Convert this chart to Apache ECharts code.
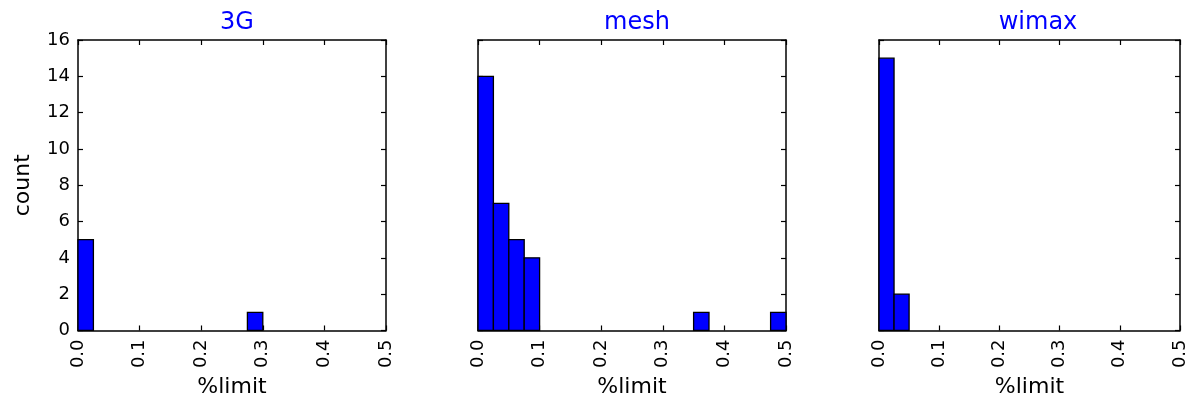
<!DOCTYPE html>
<html>
<head>
<meta charset="utf-8">
<script src="https://cdn.jsdelivr.net/npm/echarts@6/dist/echarts.min.js"></script>
<style>html,body{margin:0;padding:0;background:#fff}#c{width:1189px;height:403px}</style>
</head>
<body>
<div id="c"></div>
<script>
// ---- data ----
const panelTitles = ['3G', 'mesh', 'wimax'];
const binWidth = 0.025;
// bin start (left edge) and counts of non-empty bins
const g3BinStarts = [0.0, 0.275];
const g3Counts = [5, 1];
const meshBinStarts = [0.0, 0.025, 0.05, 0.075, 0.35, 0.475];
const meshCounts = [14, 7, 5, 4, 1, 1];
const wimaxBinStarts = [0.0, 0.025];
const wimaxCounts = [15, 2];
const xTickLabels = ['0.0', '0.1', '0.2', '0.3', '0.4', '0.5'];
const yTickLabels = ['0', '2', '4', '6', '8', '10', '12', '14', '16'];
const xAxisName = '%limit';
const yAxisName = 'count';

const panels = [
  { starts: g3BinStarts, counts: g3Counts },
  { starts: meshBinStarts, counts: meshCounts },
  { starts: wimaxBinStarts, counts: wimaxCounts }
];

const FONT = 'DejaVu Sans';
const gridLefts = [78, 478, 879];
const gridWidth = 308;
const gridTop = 40;
const gridHeight = 292;
const LINE = { color: '#000', width: 1.5 };
const TICK = { show: true, inside: true, length: 5, lineStyle: { color: '#000', width: 1.2 } };

const grids = [], xAxes = [], yAxes = [], series = [], titles = [];

panels.forEach((p, i) => {
  grids.push({ left: gridLefts[i], top: gridTop, width: gridWidth, height: gridHeight,
    show: false });
  titles.push({ text: panelTitles[i], left: gridLefts[i] + gridWidth / 2, top: 6, textAlign: 'center',
    textStyle: { color: '#0000ff', fontFamily: FONT, fontSize: 24, fontWeight: 'normal' } });
  // bottom x axis
  xAxes.push({ gridIndex: i, type: 'value', min: 0, max: 0.5, interval: 0.1, position: 'bottom',
    name: xAxisName, nameLocation: 'middle', nameGap: 44,
    nameTextStyle: { fontFamily: FONT, fontSize: 22, color: '#000' },
    axisLine: { show: true, onZero: false, lineStyle: LINE },
    axisTick: TICK,
    axisLabel: { rotate: 90, margin: 9, fontFamily: FONT, fontSize: 18, color: '#000',
      formatter: v => xTickLabels[Math.round(v * 10)] },
    splitLine: { show: false } });
  // top x axis (ticks only)
  xAxes.push({ gridIndex: i, type: 'value', min: 0, max: 0.5, interval: 0.1, position: 'top',
    axisLine: { show: true, onZero: false, lineStyle: LINE },
    axisTick: TICK,
    axisLabel: { show: false }, splitLine: { show: false } });
  // left y axis
  yAxes.push({ gridIndex: i, type: 'value', min: 0, max: 16, interval: 2, position: 'left',
    name: i === 0 ? yAxisName : '', nameLocation: 'middle', nameGap: 44,
    nameTextStyle: { fontFamily: FONT, fontSize: 22, color: '#000' },
    axisLine: { show: true, onZero: false, lineStyle: LINE },
    axisTick: TICK,
    axisLabel: { show: i === 0, margin: 8, fontFamily: FONT, fontSize: 18, color: '#000',
      formatter: v => yTickLabels[Math.round(v / 2)] },
    splitLine: { show: false } });
  // right y axis (ticks only)
  yAxes.push({ gridIndex: i, type: 'value', min: 0, max: 16, interval: 2, position: 'right',
    axisLine: { show: true, onZero: false, lineStyle: LINE },
    axisTick: TICK,
    axisLabel: { show: false }, splitLine: { show: false } });

  series.push({
    type: 'custom',
    xAxisIndex: i * 2,
    yAxisIndex: i * 2,
    data: p.starts.map((s, k) => [s, p.counts[k]]),
    renderItem: (params, api) => {
      const x0 = api.value(0);
      const h = api.value(1);
      const a = api.coord([x0, 0]);
      const b = api.coord([x0 + binWidth, h]);
      return {
        type: 'rect',
        shape: { x: a[0], y: b[1], width: b[0] - a[0], height: a[1] - b[1] },
        style: { fill: '#0000ff', stroke: '#000', lineWidth: 1.3 }
      };
    },
    z: 1
  });
});

const chart = echarts.init(document.getElementById('c'), null, { renderer: 'canvas' });
chart.setOption({
  animation: false,
  backgroundColor: '#fff',
  title: titles,
  grid: grids,
  xAxis: xAxes,
  yAxis: yAxes,
  series: series
});
</script>
</body>
</html>
